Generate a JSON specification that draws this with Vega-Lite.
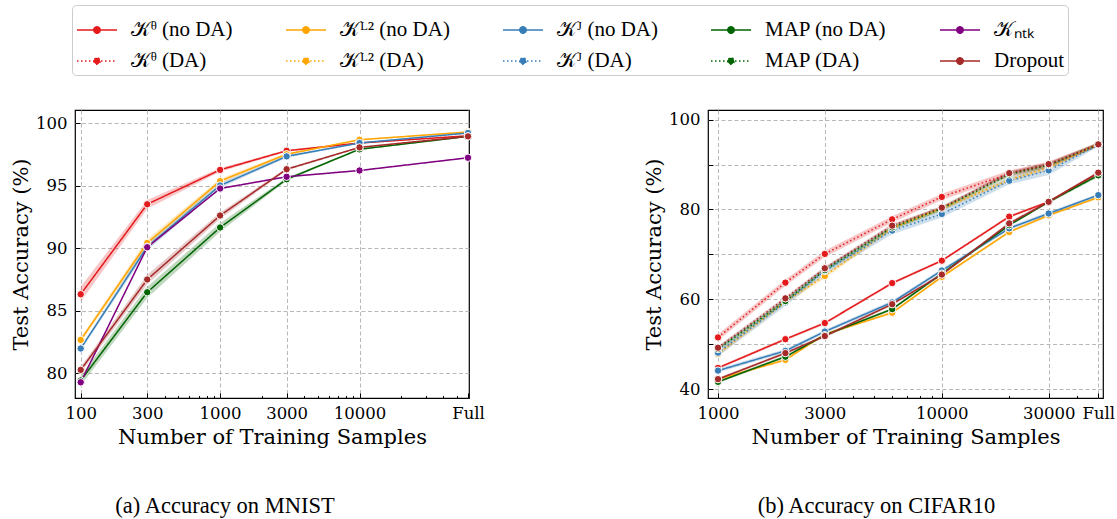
{
  "$schema": "https://vega.github.io/schema/vega-lite/v6.json",
  "padding": {"left": 9, "top": 4, "right": 5, "bottom": 5},
  "background": "white",
  "config": {
    "font": "DejaVu Serif",
    "view": {"stroke": "black", "strokeWidth": 1.2},
    "axis": {
      "labelFont": "DejaVu Serif", "labelFontSize": 16.5, "labelColor": "black",
      "titleFont": "DejaVu Serif", "titleFontSize": 21, "titleFontWeight": "normal", "titleColor": "black",
      "grid": true, "gridColor": "#b0b0b0", "gridDash": [4, 2.5], "gridWidth": 0.9,
      "domain": false, "tickColor": "black", "tickSize": -5, "tickWidth": 1, "labelPadding": 13
    },
    "legend": {"labelFont": "Liberation Serif", "labelFontSize": 21, "labelColor": "black"}
  },
  "datasets": {
    "mnist": [
      {"series": "𝒦ᶿ (no DA)", "n": 100, "acc": 86.3, "lo": 85.7, "hi": 86.9},
      {"series": "𝒦ᶿ (no DA)", "n": 300, "acc": 93.5, "lo": 93.15, "hi": 93.85},
      {"series": "𝒦ᶿ (no DA)", "n": 1000, "acc": 96.25, "lo": 96.1, "hi": 96.4},
      {"series": "𝒦ᶿ (no DA)", "n": 3000, "acc": 97.78, "lo": 97.7, "hi": 97.86},
      {"series": "𝒦ᶿ (no DA)", "n": 10000, "acc": 98.4, "lo": 98.35, "hi": 98.45},
      {"series": "𝒦ᶿ (no DA)", "n": 60000, "acc": 98.98, "lo": 98.94, "hi": 99.02},
      {"series": "𝒦ᴸ² (no DA)", "n": 100, "acc": 82.65, "lo": 82.45, "hi": 82.85},
      {"series": "𝒦ᴸ² (no DA)", "n": 300, "acc": 90.4, "lo": 90.1, "hi": 90.7},
      {"series": "𝒦ᴸ² (no DA)", "n": 1000, "acc": 95.35, "lo": 95.15, "hi": 95.55},
      {"series": "𝒦ᴸ² (no DA)", "n": 3000, "acc": 97.5, "lo": 97.4, "hi": 97.6},
      {"series": "𝒦ᴸ² (no DA)", "n": 10000, "acc": 98.66, "lo": 98.6, "hi": 98.72},
      {"series": "𝒦ᴸ² (no DA)", "n": 60000, "acc": 99.28, "lo": 99.24, "hi": 99.32},
      {"series": "𝒦ᴶ (no DA)", "n": 100, "acc": 81.96, "lo": 81.8, "hi": 82.1},
      {"series": "𝒦ᴶ (no DA)", "n": 300, "acc": 90.1, "lo": 89.8, "hi": 90.4},
      {"series": "𝒦ᴶ (no DA)", "n": 1000, "acc": 95.0, "lo": 94.8, "hi": 95.2},
      {"series": "𝒦ᴶ (no DA)", "n": 3000, "acc": 97.33, "lo": 97.23, "hi": 97.43},
      {"series": "𝒦ᴶ (no DA)", "n": 10000, "acc": 98.4, "lo": 98.34, "hi": 98.46},
      {"series": "𝒦ᴶ (no DA)", "n": 60000, "acc": 99.2, "lo": 99.16, "hi": 99.24},
      {"series": "MAP (no DA)", "n": 100, "acc": 79.4, "lo": 79.0, "hi": 79.8},
      {"series": "MAP (no DA)", "n": 300, "acc": 86.46, "lo": 86.0, "hi": 86.9},
      {"series": "MAP (no DA)", "n": 1000, "acc": 91.64, "lo": 91.3, "hi": 92.0},
      {"series": "MAP (no DA)", "n": 3000, "acc": 95.5, "lo": 95.38, "hi": 95.62},
      {"series": "MAP (no DA)", "n": 10000, "acc": 97.9, "lo": 97.84, "hi": 97.96},
      {"series": "MAP (no DA)", "n": 60000, "acc": 98.93, "lo": 98.89, "hi": 98.97},
      {"series": "𝒦ₙₜₖ", "n": 100, "acc": 79.26, "lo": 79.2, "hi": 79.32},
      {"series": "𝒦ₙₜₖ", "n": 300, "acc": 90.06, "lo": 90.0, "hi": 90.12},
      {"series": "𝒦ₙₜₖ", "n": 1000, "acc": 94.76, "lo": 94.7, "hi": 94.82},
      {"series": "𝒦ₙₜₖ", "n": 3000, "acc": 95.7, "lo": 95.65, "hi": 95.75},
      {"series": "𝒦ₙₜₖ", "n": 10000, "acc": 96.2, "lo": 96.15, "hi": 96.25},
      {"series": "𝒦ₙₜₖ", "n": 60000, "acc": 97.22, "lo": 97.18, "hi": 97.26},
      {"series": "Dropout", "n": 100, "acc": 80.25, "lo": 80.0, "hi": 80.5},
      {"series": "Dropout", "n": 300, "acc": 87.48, "lo": 87.1, "hi": 87.86},
      {"series": "Dropout", "n": 1000, "acc": 92.6, "lo": 92.35, "hi": 92.85},
      {"series": "Dropout", "n": 3000, "acc": 96.3, "lo": 96.2, "hi": 96.4},
      {"series": "Dropout", "n": 10000, "acc": 98.05, "lo": 97.99, "hi": 98.11},
      {"series": "Dropout", "n": 60000, "acc": 98.93, "lo": 98.89, "hi": 98.97}
    ],
    "cifar": [
      {"series": "𝒦ᶿ (no DA)", "n": 1000, "acc": 44.7, "lo": 44.4, "hi": 45.0},
      {"series": "𝒦ᶿ (no DA)", "n": 2000, "acc": 51.1, "lo": 50.8, "hi": 51.4},
      {"series": "𝒦ᶿ (no DA)", "n": 3000, "acc": 54.7, "lo": 54.4, "hi": 55.0},
      {"series": "𝒦ᶿ (no DA)", "n": 6000, "acc": 63.6, "lo": 63.3, "hi": 63.9},
      {"series": "𝒦ᶿ (no DA)", "n": 10000, "acc": 68.6, "lo": 68.3, "hi": 68.9},
      {"series": "𝒦ᶿ (no DA)", "n": 20000, "acc": 78.4, "lo": 78.1, "hi": 78.7},
      {"series": "𝒦ᶿ (no DA)", "n": 30000, "acc": 81.7, "lo": 81.4, "hi": 82.0},
      {"series": "𝒦ᶿ (no DA)", "n": 50000, "acc": 88.1, "lo": 87.8, "hi": 88.4},
      {"series": "𝒦ᶿ (DA)", "n": 1000, "acc": 51.5, "lo": 50.8, "hi": 52.2},
      {"series": "𝒦ᶿ (DA)", "n": 2000, "acc": 63.7, "lo": 63.0, "hi": 64.4},
      {"series": "𝒦ᶿ (DA)", "n": 3000, "acc": 70.1, "lo": 69.4, "hi": 70.8},
      {"series": "𝒦ᶿ (DA)", "n": 6000, "acc": 77.8, "lo": 77.1, "hi": 78.5},
      {"series": "𝒦ᶿ (DA)", "n": 10000, "acc": 82.8, "lo": 82.1, "hi": 83.5},
      {"series": "𝒦ᶿ (DA)", "n": 20000, "acc": 88.0, "lo": 87.3, "hi": 88.7},
      {"series": "𝒦ᶿ (DA)", "n": 30000, "acc": 90.0, "lo": 89.3, "hi": 90.7},
      {"series": "𝒦ᶿ (DA)", "n": 50000, "acc": 94.5, "lo": 94.1, "hi": 94.9},
      {"series": "𝒦ᴸ² (no DA)", "n": 1000, "acc": 42.2, "lo": 41.9, "hi": 42.5},
      {"series": "𝒦ᴸ² (no DA)", "n": 2000, "acc": 46.5, "lo": 46.2, "hi": 46.8},
      {"series": "𝒦ᴸ² (no DA)", "n": 3000, "acc": 52.2, "lo": 51.9, "hi": 52.5},
      {"series": "𝒦ᴸ² (no DA)", "n": 6000, "acc": 57.0, "lo": 56.7, "hi": 57.3},
      {"series": "𝒦ᴸ² (no DA)", "n": 10000, "acc": 65.0, "lo": 64.7, "hi": 65.3},
      {"series": "𝒦ᴸ² (no DA)", "n": 20000, "acc": 75.0, "lo": 74.7, "hi": 75.3},
      {"series": "𝒦ᴸ² (no DA)", "n": 30000, "acc": 78.7, "lo": 78.4, "hi": 79.0},
      {"series": "𝒦ᴸ² (no DA)", "n": 50000, "acc": 82.7, "lo": 82.4, "hi": 83.0},
      {"series": "𝒦ᴸ² (DA)", "n": 1000, "acc": 47.8, "lo": 47.3, "hi": 48.3},
      {"series": "𝒦ᴸ² (DA)", "n": 2000, "acc": 59.5, "lo": 59.0, "hi": 60.0},
      {"series": "𝒦ᴸ² (DA)", "n": 3000, "acc": 65.2, "lo": 64.7, "hi": 65.7},
      {"series": "𝒦ᴸ² (DA)", "n": 6000, "acc": 75.8, "lo": 75.3, "hi": 76.3},
      {"series": "𝒦ᴸ² (DA)", "n": 10000, "acc": 80.2, "lo": 79.7, "hi": 80.7},
      {"series": "𝒦ᴸ² (DA)", "n": 20000, "acc": 86.6, "lo": 86.1, "hi": 87.1},
      {"series": "𝒦ᴸ² (DA)", "n": 30000, "acc": 89.3, "lo": 88.8, "hi": 89.8},
      {"series": "𝒦ᴸ² (DA)", "n": 50000, "acc": 94.5, "lo": 94.1, "hi": 94.9},
      {"series": "𝒦ᴶ (no DA)", "n": 1000, "acc": 44.1, "lo": 43.7, "hi": 44.5},
      {"series": "𝒦ᴶ (no DA)", "n": 2000, "acc": 48.5, "lo": 48.1, "hi": 48.9},
      {"series": "𝒦ᴶ (no DA)", "n": 3000, "acc": 52.8, "lo": 52.4, "hi": 53.2},
      {"series": "𝒦ᴶ (no DA)", "n": 6000, "acc": 59.3, "lo": 58.9, "hi": 59.7},
      {"series": "𝒦ᴶ (no DA)", "n": 10000, "acc": 66.4, "lo": 66.0, "hi": 66.8},
      {"series": "𝒦ᴶ (no DA)", "n": 20000, "acc": 75.8, "lo": 75.4, "hi": 76.2},
      {"series": "𝒦ᴶ (no DA)", "n": 30000, "acc": 79.1, "lo": 78.7, "hi": 79.5},
      {"series": "𝒦ᴶ (no DA)", "n": 50000, "acc": 83.2, "lo": 82.9, "hi": 83.5},
      {"series": "𝒦ᴶ (DA)", "n": 1000, "acc": 48.1, "lo": 47.3, "hi": 48.9},
      {"series": "𝒦ᴶ (DA)", "n": 2000, "acc": 59.3, "lo": 58.5, "hi": 60.1},
      {"series": "𝒦ᴶ (DA)", "n": 3000, "acc": 66.3, "lo": 65.5, "hi": 67.1},
      {"series": "𝒦ᴶ (DA)", "n": 6000, "acc": 75.3, "lo": 74.5, "hi": 76.1},
      {"series": "𝒦ᴶ (DA)", "n": 10000, "acc": 79.0, "lo": 78.2, "hi": 79.8},
      {"series": "𝒦ᴶ (DA)", "n": 20000, "acc": 86.4, "lo": 85.6, "hi": 87.2},
      {"series": "𝒦ᴶ (DA)", "n": 30000, "acc": 88.7, "lo": 87.7, "hi": 89.7},
      {"series": "𝒦ᴶ (DA)", "n": 50000, "acc": 94.4, "lo": 94.0, "hi": 94.8},
      {"series": "MAP (no DA)", "n": 1000, "acc": 41.6, "lo": 41.3, "hi": 41.9},
      {"series": "MAP (no DA)", "n": 2000, "acc": 47.2, "lo": 46.9, "hi": 47.5},
      {"series": "MAP (no DA)", "n": 3000, "acc": 52.0, "lo": 51.7, "hi": 52.3},
      {"series": "MAP (no DA)", "n": 6000, "acc": 57.8, "lo": 57.5, "hi": 58.1},
      {"series": "MAP (no DA)", "n": 10000, "acc": 65.7, "lo": 65.4, "hi": 66.0},
      {"series": "MAP (no DA)", "n": 20000, "acc": 76.5, "lo": 76.2, "hi": 76.8},
      {"series": "MAP (no DA)", "n": 30000, "acc": 81.7, "lo": 81.4, "hi": 82.0},
      {"series": "MAP (no DA)", "n": 50000, "acc": 87.6, "lo": 87.2, "hi": 88.0},
      {"series": "MAP (DA)", "n": 1000, "acc": 48.9, "lo": 48.4, "hi": 49.4},
      {"series": "MAP (DA)", "n": 2000, "acc": 59.6, "lo": 59.1, "hi": 60.1},
      {"series": "MAP (DA)", "n": 3000, "acc": 66.5, "lo": 66.0, "hi": 67.0},
      {"series": "MAP (DA)", "n": 6000, "acc": 76.0, "lo": 75.5, "hi": 76.5},
      {"series": "MAP (DA)", "n": 10000, "acc": 80.2, "lo": 79.7, "hi": 80.7},
      {"series": "MAP (DA)", "n": 20000, "acc": 87.8, "lo": 87.3, "hi": 88.3},
      {"series": "MAP (DA)", "n": 30000, "acc": 89.9, "lo": 89.4, "hi": 90.4},
      {"series": "MAP (DA)", "n": 50000, "acc": 94.5, "lo": 94.1, "hi": 94.9},
      {"series": "Dropout", "n": 1000, "acc": 42.2, "lo": 41.9, "hi": 42.5},
      {"series": "Dropout", "n": 2000, "acc": 48.0, "lo": 47.7, "hi": 48.3},
      {"series": "Dropout", "n": 3000, "acc": 51.8, "lo": 51.5, "hi": 52.1},
      {"series": "Dropout", "n": 6000, "acc": 58.9, "lo": 58.6, "hi": 59.2},
      {"series": "Dropout", "n": 10000, "acc": 65.5, "lo": 65.2, "hi": 65.8},
      {"series": "Dropout", "n": 20000, "acc": 76.9, "lo": 76.6, "hi": 77.2},
      {"series": "Dropout", "n": 30000, "acc": 81.7, "lo": 81.4, "hi": 82.0},
      {"series": "Dropout", "n": 50000, "acc": 88.2, "lo": 87.9, "hi": 88.5},
      {"series": "Dropout (DA)", "n": 1000, "acc": 49.2, "lo": 48.8, "hi": 49.6},
      {"series": "Dropout (DA)", "n": 2000, "acc": 60.2, "lo": 59.8, "hi": 60.6},
      {"series": "Dropout (DA)", "n": 3000, "acc": 66.9, "lo": 66.5, "hi": 67.3},
      {"series": "Dropout (DA)", "n": 6000, "acc": 76.4, "lo": 76.0, "hi": 76.8},
      {"series": "Dropout (DA)", "n": 10000, "acc": 80.4, "lo": 80.0, "hi": 80.8},
      {"series": "Dropout (DA)", "n": 20000, "acc": 88.1, "lo": 87.7, "hi": 88.5},
      {"series": "Dropout (DA)", "n": 30000, "acc": 90.1, "lo": 89.7, "hi": 90.5},
      {"series": "Dropout (DA)", "n": 50000, "acc": 94.5, "lo": 94.1, "hi": 94.9}
    ]
  },
  "spacing": 157,
  "resolve": {"scale": {"color": "shared", "strokeDash": "shared"}},
  "hconcat": [
    {
      "width": 394, "height": 288,
      "data": {"name": "mnist"},
      "title": {"text": "(a) Accuracy on MNIST", "orient": "bottom", "offset": 47, "font": "Liberation Serif", "fontSize": 22.5, "fontWeight": "normal", "color": "black", "anchor": "middle", "frame": "group", "dx": -47},
      "encoding": {
        "color": {
          "field": "series", "type": "nominal",
          "scale": {
            "domain": ["𝒦ᶿ (no DA)", "𝒦ᶿ (DA)", "𝒦ᴸ² (no DA)", "𝒦ᴸ² (DA)", "𝒦ᴶ (no DA)", "𝒦ᴶ (DA)", "MAP (no DA)", "MAP (DA)", "𝒦ₙₜₖ", "Dropout", "Dropout (DA)"],
            "range": ["#e41a1c", "#e41a1c", "#ffa500", "#ffa500", "#377eb8", "#377eb8", "#006400", "#006400", "#800080", "#a52a2a", "#a52a2a"]
          },
          "legend": {
            "orient": "none", "legendX": -3, "legendY": -105,
            "columns": 5, "title": null,
            "values": ["𝒦ᶿ (no DA)", "𝒦ᶿ (DA)", "𝒦ᴸ² (no DA)", "𝒦ᴸ² (DA)", "𝒦ᴶ (no DA)", "𝒦ᴶ (DA)", "MAP (no DA)", "MAP (DA)", "𝒦ₙₜₖ", "Dropout"],
            "labelFont": "Liberation Serif", "labelFontSize": 21, "labelColor": "black", "labelLimit": 400,
            "symbolType": "M-1,0H1M-0.16,0a0.16,0.16 0 1,0 0.32,0a0.16,0.16 0 1,0 -0.32,0",
            "symbolSize": 1600, "symbolStrokeWidth": 1.5, "labelOffset": 13,
            "rowPadding": 0, "columnPadding": 50, "padding": 4,
            "strokeColor": "#cccccc", "fillColor": "white", "cornerRadius": 4,
            "encode": {"symbols": {"update": {
              "fill": {"scale": "color", "field": "value"},
              "stroke": {"scale": "color", "field": "value"},
              "strokeDash": {"scale": "strokeDash", "field": "value"},
              "opacity": {"value": 1}, "fillOpacity": {"value": 1}, "strokeOpacity": {"value": 1}
            }}}
          }
        }
      },
      "resolve": {"axis": {"x": "independent"}},
      "layer": [
        {
          "mark": {"type": "area", "opacity": 0.25},
          "encoding": {
            "x": {"field": "n", "type": "quantitative", "scale": {"type": "log", "domain": [91, 61000]}, "axis": null},
            "y": {"field": "lo", "type": "quantitative", "scale": {"domain": [78, 101.04]},
              "axis": {"values": [80, 85, 90, 95, 100], "title": "Test Accuracy (%)", "titlePadding": 4}},
            "y2": {"field": "hi"}
          }
        },
        {
          "mark": {"type": "line", "strokeWidth": 1.5},
          "encoding": {
            "x": {"field": "n", "type": "quantitative", "scale": {"type": "log", "domain": [91, 61000]},
              "axis": {"orient": "bottom", "grid": true, "values": [100, 300, 1000, 3000, 10000, 60000], "labelExpr": "datum.value == 60000 ? 'Full' : format(datum.value, 'd')", "labelFlush": false, "labelOverlap": false, "title": "Number of Training Samples", "titlePadding": 5, "labelPadding": 12}},
            "y": {"field": "acc", "type": "quantitative", "scale": {"domain": [78, 101.04]},
              "axis": {"values": [80, 85, 90, 95, 100], "title": "Test Accuracy (%)", "titlePadding": 4}},
            "strokeDash": {
              "field": "series", "type": "nominal", "legend": null,
              "scale": {
                "domain": ["𝒦ᶿ (no DA)", "𝒦ᶿ (DA)", "𝒦ᴸ² (no DA)", "𝒦ᴸ² (DA)", "𝒦ᴶ (no DA)", "𝒦ᴶ (DA)", "MAP (no DA)", "MAP (DA)", "𝒦ₙₜₖ", "Dropout", "Dropout (DA)"],
                "range": [[1, 0], [1.5, 2.5], [1, 0], [1.5, 2.5], [1, 0], [1.5, 2.5], [1, 0], [1.5, 2.5], [1, 0], [1, 0], [1.5, 2.5]]
              }
            }
          }
        },
        {
          "mark": {"type": "point", "filled": true, "size": 55, "stroke": "white", "strokeWidth": 1, "opacity": 1},
          "encoding": {
            "x": {"field": "n", "type": "quantitative", "scale": {"type": "log", "domain": [91, 61000]},
              "axis": {"orient": "bottom", "values": [200, 400, 500, 600, 700, 800, 900, 2000, 4000, 5000, 6000, 7000, 8000, 9000, 20000, 30000, 40000, 50000], "labels": false, "grid": false, "tickSize": -2.5, "title": null}},
            "y": {"field": "acc", "type": "quantitative", "scale": {"domain": [78, 101.04]},
              "axis": {"values": [80, 85, 90, 95, 100], "title": "Test Accuracy (%)", "titlePadding": 4}}
          }
        }
      ]
    },
    {
      "width": 395, "height": 288,
      "data": {"name": "cifar"},
      "title": {"text": "(b) Accuracy on CIFAR10", "orient": "bottom", "offset": 47, "font": "Liberation Serif", "fontSize": 22.5, "fontWeight": "normal", "color": "black", "anchor": "middle", "frame": "group", "dx": -29},
      "encoding": {
        "color": {
          "field": "series", "type": "nominal",
          "scale": {
            "domain": ["𝒦ᶿ (no DA)", "𝒦ᶿ (DA)", "𝒦ᴸ² (no DA)", "𝒦ᴸ² (DA)", "𝒦ᴶ (no DA)", "𝒦ᴶ (DA)", "MAP (no DA)", "MAP (DA)", "𝒦ₙₜₖ", "Dropout", "Dropout (DA)"],
            "range": ["#e41a1c", "#e41a1c", "#ffa500", "#ffa500", "#377eb8", "#377eb8", "#006400", "#006400", "#800080", "#a52a2a", "#a52a2a"]
          }
        }
      },
      "resolve": {"axis": {"x": "independent"}},
      "layer": [
        {
          "mark": {"type": "area", "opacity": 0.25},
          "encoding": {
            "x": {"field": "n", "type": "quantitative", "scale": {"type": "log", "domain": [902, 52480]}, "axis": null},
            "y": {"field": "lo", "type": "quantitative", "scale": {"domain": [38, 102.16]},
              "axis": {"values": [40, 50, 60, 70, 80, 90, 100], "labelExpr": "datum.value % 20 == 0 ? datum.label : ''", "title": "Test Accuracy (%)", "titlePadding": 4}},
            "y2": {"field": "hi"}
          }
        },
        {
          "mark": {"type": "line", "strokeWidth": 1.5},
          "encoding": {
            "x": {"field": "n", "type": "quantitative", "scale": {"type": "log", "domain": [902, 52480]},
              "axis": {"orient": "bottom", "grid": true, "values": [1000, 3000, 10000, 30000, 50000], "labelExpr": "datum.value == 50000 ? 'Full' : format(datum.value, 'd')", "labelFlush": false, "labelOverlap": false, "title": "Number of Training Samples", "titlePadding": 5, "labelPadding": 12}},
            "y": {"field": "acc", "type": "quantitative", "scale": {"domain": [38, 102.16]},
              "axis": {"values": [40, 50, 60, 70, 80, 90, 100], "labelExpr": "datum.value % 20 == 0 ? datum.label : ''", "title": "Test Accuracy (%)", "titlePadding": 4}},
            "strokeDash": {
              "field": "series", "type": "nominal", "legend": null,
              "scale": {
                "domain": ["𝒦ᶿ (no DA)", "𝒦ᶿ (DA)", "𝒦ᴸ² (no DA)", "𝒦ᴸ² (DA)", "𝒦ᴶ (no DA)", "𝒦ᴶ (DA)", "MAP (no DA)", "MAP (DA)", "𝒦ₙₜₖ", "Dropout", "Dropout (DA)"],
                "range": [[1, 0], [1.5, 2.5], [1, 0], [1.5, 2.5], [1, 0], [1.5, 2.5], [1, 0], [1.5, 2.5], [1, 0], [1, 0], [1.5, 2.5]]
              }
            }
          }
        },
        {
          "mark": {"type": "point", "filled": true, "size": 55, "stroke": "white", "strokeWidth": 1, "opacity": 1},
          "encoding": {
            "x": {"field": "n", "type": "quantitative", "scale": {"type": "log", "domain": [902, 52480]},
              "axis": {"orient": "bottom", "values": [2000, 4000, 5000, 6000, 7000, 8000, 9000, 20000, 40000], "labels": false, "grid": false, "tickSize": -2.5, "title": null}},
            "y": {"field": "acc", "type": "quantitative", "scale": {"domain": [38, 102.16]},
              "axis": {"values": [40, 50, 60, 70, 80, 90, 100], "labelExpr": "datum.value % 20 == 0 ? datum.label : ''", "title": "Test Accuracy (%)", "titlePadding": 4}}
          }
        }
      ]
    }
  ]
}
